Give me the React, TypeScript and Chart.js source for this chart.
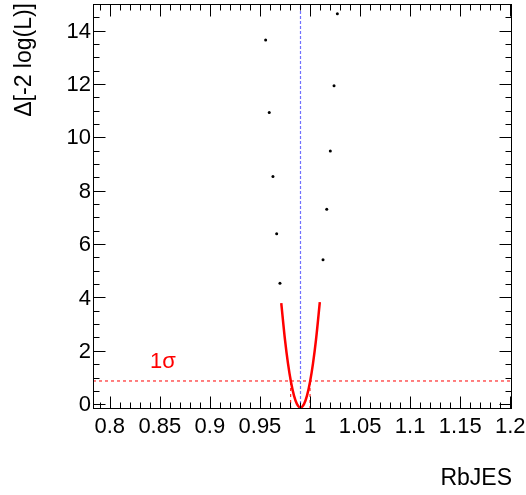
import React, { useEffect, useRef } from "react";
import { Chart, registerables } from "chart.js";

Chart.register(...registerables);

// Scan points (RbJES value, Δ[-2 log(L)])
const scanX = [0.9557, 0.9593, 0.963, 0.9667, 0.970, 1.013, 1.0167, 1.0203, 1.024, 1.0273];
const scanY = [13.65, 10.93, 8.53, 6.39, 4.53, 5.41, 7.31, 9.49, 11.94, 14.63];

// Fitted parabola
const fitX = [0.9713, 0.975, 0.978, 0.981, 0.984, 0.987, 0.9905, 0.994, 0.997, 1.0, 1.003, 1.006, 1.0098];
const fitY = [3.79, 2.42, 1.53, 0.83, 0.32, 0.0, -0.13, 0.0, 0.32, 0.83, 1.53, 2.42, 3.83];

const bestFit = 0.9905;
const oneSigmaLevel = 0.87;
const oneSigmaLow = 0.9807;
const oneSigmaHigh = 1.0;

const xTickLabels = ["0.8", "0.85", "0.9", "0.95", "1", "1.05", "1.1", "1.15", "1.2"];
const yTickLabels = ["0", "2", "4", "6", "8", "10", "12", "14"];

const xMin = 0.7833;
const xMax = 1.2017;
const yMin = -0.18;
const yMax = 15.0;

const FONT = '22px "Liberation Sans", Arial, sans-serif';
const TITLE_FONT = '23px "Liberation Sans", Arial, sans-serif';

const framePlugin = {
  id: "rootFrame",
  afterDraw(chart: any) {
    const { ctx, chartArea: ca, scales } = chart;
    const xs = scales.x;
    const ys = scales.y;
    ctx.save();
    ctx.strokeStyle = "#000";
    ctx.lineWidth = 1;
    ctx.setLineDash([]);
    ctx.strokeRect(Math.round(ca.left) + 0.5, Math.round(ca.top) + 0.5, Math.round(ca.right - ca.left) - 1, Math.round(ca.bottom - ca.top) - 1);

    const L = Math.round(ca.left) + 0.5;
    const R = Math.round(ca.right) - 0.5;
    const T = Math.round(ca.top) + 0.5;
    const B = Math.round(ca.bottom) - 0.5;

    ctx.beginPath();
    // x ticks
    for (let i = -1; i <= 41; i++) {
      const v = 0.8 + i * 0.01;
      if (v < xMin || v > xMax) continue;
      const px = Math.round(xs.getPixelForValue(v)) + 0.5;
      const len = i % 5 === 0 ? 12 : 6;
      ctx.moveTo(px, B);
      ctx.lineTo(px, B - len);
      ctx.moveTo(px, T);
      ctx.lineTo(px, T + len);
    }
    // y ticks
    for (let i = 0; i <= 30; i++) {
      const v = i * 0.5;
      if (v < yMin || v >= yMax) continue;
      const py = Math.round(ys.getPixelForValue(v)) + 0.5;
      const len = i % 4 === 0 ? 12 : 6;
      ctx.moveTo(L, py);
      ctx.lineTo(L + len, py);
      ctx.moveTo(R, py);
      ctx.lineTo(R - len, py);
    }
    ctx.stroke();

    ctx.fillStyle = "#000";
    ctx.font = FONT;
    ctx.textAlign = "center";
    ctx.textBaseline = "alphabetic";
    xTickLabels.forEach((lab) => {
      const px = xs.getPixelForValue(parseFloat(lab));
      ctx.fillText(lab, px, 433);
    });
    ctx.textAlign = "right";
    ctx.textBaseline = "middle";
    yTickLabels.forEach((lab) => {
      const py = ys.getPixelForValue(parseFloat(lab));
      ctx.fillText(lab, 91, py + 1);
    });

    // axis titles
    ctx.font = TITLE_FONT;
    ctx.textAlign = "right";
    ctx.textBaseline = "alphabetic";
    ctx.fillText("RbJES", 512, 485);

    ctx.save();
    ctx.translate(25, 3);
    ctx.rotate(-Math.PI / 2);
    ctx.textAlign = "right";
    ctx.textBaseline = "middle";
    ctx.fillText("Δ[-2 log(L)]", 0, 0);
    ctx.restore();

    // 1 sigma label
    ctx.font = FONT;
    ctx.fillStyle = "#ff0000";
    ctx.textAlign = "left";
    ctx.textBaseline = "alphabetic";
    ctx.fillText("1σ", 150, 368);

    ctx.restore();
  },
};

export default function App() {
  const ref = useRef<HTMLCanvasElement>(null);

  useEffect(() => {
    if (!ref.current) return;
    const scatter = scanX.map((x, i) => ({ x, y: scanY[i] }));
    const fit = fitX.map((x, i) => ({ x, y: fitY[i] }));
    const chart = new Chart(ref.current, {
      type: "scatter",
      data: {
        datasets: [
          {
            label: "blue",
            data: [
              { x: bestFit, y: yMin },
              { x: bestFit, y: yMax },
            ],
            showLine: true,
            borderColor: "#7070ff",
            borderWidth: 1.2,
            borderDash: [3, 2],
            pointRadius: 0,
          },
          {
            label: "level",
            data: [
              { x: xMin, y: oneSigmaLevel },
              { x: xMax, y: oneSigmaLevel },
            ],
            showLine: true,
            borderColor: "#ff0000",
            borderWidth: 1,
            borderDash: [3, 3],
            pointRadius: 0,
          },
          {
            label: "low",
            data: [
              { x: oneSigmaLow, y: yMin },
              { x: oneSigmaLow, y: oneSigmaLevel },
            ],
            showLine: true,
            borderColor: "#ff0000",
            borderWidth: 1,
            borderDash: [3, 3],
            pointRadius: 0,
          },
          {
            label: "high",
            data: [
              { x: oneSigmaHigh, y: yMin },
              { x: oneSigmaHigh, y: oneSigmaLevel },
            ],
            showLine: true,
            borderColor: "#ff0000",
            borderWidth: 1,
            borderDash: [3, 3],
            pointRadius: 0,
          },
          {
            label: "fit",
            data: fit,
            showLine: true,
            borderColor: "#ff0000",
            borderWidth: 2.5,
            cubicInterpolationMode: "monotone",
            pointRadius: 0,
          },
          {
            label: "scan",
            data: scatter,
            backgroundColor: "#000",
            borderColor: "#000",
            pointRadius: 1.5,
            borderWidth: 0,
          },
        ],
      },
      options: {
        animation: false,
        responsive: true,
        maintainAspectRatio: false,
        layout: { padding: { left: 93, top: 4, right: 14, bottom: 86 } },
        plugins: { legend: { display: false }, tooltip: { enabled: false } },
        scales: {
          x: { type: "linear", min: xMin, max: xMax, display: false },
          y: { type: "linear", min: yMin, max: yMax, display: false },
        },
      },
      plugins: [framePlugin],
    });
    return () => chart.destroy();
  }, []);

  return (
    <div style={{ position: "fixed", left: 0, top: 0, width: 526, height: 495, background: "#fff" }}>
      <canvas ref={ref} />
    </div>
  );
}
